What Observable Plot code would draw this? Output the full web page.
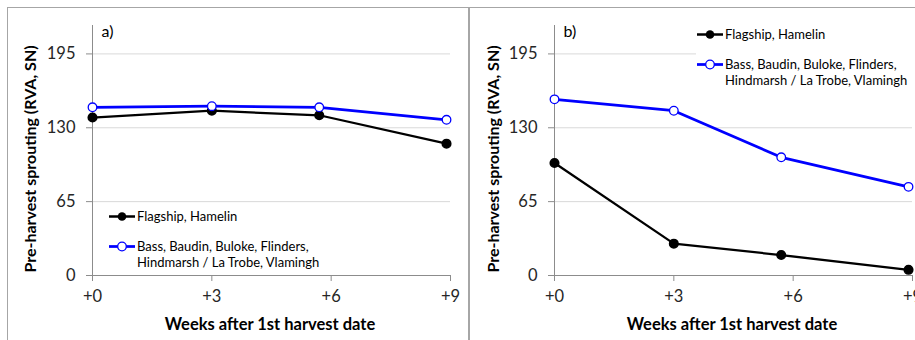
<!DOCTYPE html>
<html>
<head>
<meta charset="utf-8">
<script src="https://cdn.jsdelivr.net/npm/d3@7"></script>
<script src="https://cdn.jsdelivr.net/npm/@observablehq/plot@0.6"></script>
<style>
  html, body { margin: 0; padding: 0; background: white; }
  #root { position: relative; width: 915px; height: 340px; overflow: hidden; font-family: Lato, "Open Sans", sans-serif; }
  .panel { position: absolute; top: 0; }
  .frame { position: absolute; pointer-events: none; border-color: #a6a6a6; border-style: solid; border-width: 0; }
  .ytitle { position: absolute; font-weight: bold; font-size: 16px; color: #000; white-space: nowrap;
            transform: translate(-50%, -50%) rotate(-90deg); }
  .xtitle { position: absolute; font-weight: bold; font-size: 16.5px; color: #000; white-space: nowrap;
            transform: translate(-50%, -50%); }
  .legend { position: absolute; background: white; font-size: 13px; color: #000; line-height: 16.5px; }
  .legend .row { display: flex; align-items: flex-start; }
  .legend svg { flex: none; }
</style>
</head>
<body>
<div id="root"></div>
<script>
// ---- data ----
const weeks = [0, 3, 5.7, 8.9];
const tickWeeks = [0, 3, 6, 9];
const yTicks = [0, 65, 130, 195];
const seriesNames = ["Flagship, Hamelin", "Bass, Baudin, Buloke, Flinders, Hindmarsh / La Trobe, Vlamingh"];
const legendLines = [["Flagship, Hamelin"], ["Bass, Baudin, Buloke, Flinders,", "Hindmarsh / La Trobe, Vlamingh"]];
const aFlagship = [139, 145, 141, 116];
const aBass = [148, 149, 148, 137];
const bFlagship = [99, 28, 18, 5];
const bBass = [155, 145, 104, 78];
const panelLabels = ["a)", "b)"];
const yTitle = "Pre-harvest sprouting (RVA, SN)";
const xTitle = "Weeks after 1st harvest date";

const BLACK = "#000000", BLUE = "#0000ff";
const root = document.getElementById("root");

function rows(flag, bass) {
  return [
    ...weeks.map((w, i) => ({week: w, value: flag[i], series: seriesNames[0]})),
    ...weeks.map((w, i) => ({week: w, value: bass[i], series: seriesNames[1]}))
  ];
}

function panel(label, flag, bass, left, mLeft, mRight) {
  const data = rows(flag, bass);
  const flagData = data.filter(d => d.series === seriesNames[0]);
  const bassData = data.filter(d => d.series === seriesNames[1]);
  const chart = Plot.plot({
    width: 460, height: 340,
    marginLeft: mLeft, marginRight: mRight, marginTop: 25, marginBottom: 65,
    style: {background: "transparent", fontFamily: "Lato, 'Open Sans', sans-serif", overflow: "visible"},
    x: {domain: [0, 9], axis: null},
    y: {domain: [0, 220], axis: null},
    marks: [
      Plot.gridY(yTicks.filter(d => d > 0), {stroke: "#d9d9d9", strokeOpacity: 1, strokeWidth: 1}),
      Plot.ruleY([0], {stroke: "#8c8c8c", strokeWidth: 1}),
      Plot.ruleX([0], {stroke: "#8c8c8c", strokeWidth: 1}),
      Plot.axisX({ticks: tickWeeks, tickFormat: d => "+" + d, tickSize: 6, tickPadding: 9,
                  stroke: "#8c8c8c", fill: "#262626", fontSize: 16.5, label: null}),
      Plot.axisY({ticks: yTicks, tickSize: 6, tickPadding: 11,
                  stroke: "#8c8c8c", fill: "#262626", fontSize: 16.5, label: null}),
      Plot.line(flagData, {x: "week", y: "value", stroke: BLACK, strokeWidth: 2.25}),
      Plot.line(bassData, {x: "week", y: "value", stroke: BLUE, strokeWidth: 2.75}),
      Plot.dot(flagData, {x: "week", y: "value", r: 4.3, fill: BLACK, stroke: BLACK}),
      Plot.dot(bassData, {x: "week", y: "value", r: 4.3, fill: "white", stroke: BLUE, strokeWidth: 1.3}),
      Plot.text([label], {frameAnchor: "top-left", dx: 9, dy: 0, fontSize: 16, fill: "#000", textAnchor: "start"})
    ]
  });
  chart.classList.add("panel");
  chart.style.left = left + "px";
  root.appendChild(chart);
}

function legend(left, top, width) {
  const div = document.createElement("div");
  div.className = "legend";
  div.style.left = left + "px";
  div.style.top = top + "px";
  div.style.width = width + "px";
  const colors = [BLACK, BLUE];
  legendLines.forEach((lines, i) => {
    const row = document.createElement("div");
    row.className = "row";
    if (i > 0) row.style.marginTop = "13px";
    const sym = i === 0
      ? `<svg width="29" height="16"><line x1="1" x2="27" y1="8.5" y2="8.5" stroke="${colors[i]}" stroke-width="2.5"/><circle cx="14" cy="8.5" r="4.3" fill="${colors[i]}"/></svg>`
      : `<svg width="29" height="16"><line x1="1" x2="27" y1="8.5" y2="8.5" stroke="${colors[i]}" stroke-width="2.75"/><circle cx="14" cy="8.5" r="4.3" fill="white" stroke="${colors[i]}" stroke-width="1.3"/></svg>`;
    row.innerHTML = sym + `<div>${lines.join("<br>")}</div>`;
    div.appendChild(row);
  });
  root.appendChild(div);
}

function titles(yx, yy, xx, xy) {
  const yt = document.createElement("div");
  yt.className = "ytitle"; yt.textContent = yTitle;
  yt.style.left = yx + "px"; yt.style.top = yy + "px";
  root.appendChild(yt);
  const xt = document.createElement("div");
  xt.className = "xtitle"; xt.textContent = xTitle;
  xt.style.left = xx + "px"; xt.style.top = xy + "px";
  root.appendChild(xt);
}

panel(panelLabels[0], aFlagship, aBass, 0, 92, 10);
panel(panelLabels[1], bFlagship, bBass, 460, 94, 8);
legend(108, 208, 220);
legend(696, 26, 230);
titles(29, 159, 270, 324);
titles(492, 159, 732, 324);

// frames
const f1 = document.createElement("div");
f1.className = "frame";
Object.assign(f1.style, {left: "7px", top: "7px", width: "920px", height: "340px", borderTopWidth: "1.5px", borderLeftWidth: "1.5px"});
root.appendChild(f1);
const f2 = document.createElement("div");
f2.className = "frame";
Object.assign(f2.style, {left: "467.5px", top: "7px", width: "2px", height: "340px", borderLeftWidth: "2px"});
root.appendChild(f2);
</script>
</body>
</html>
